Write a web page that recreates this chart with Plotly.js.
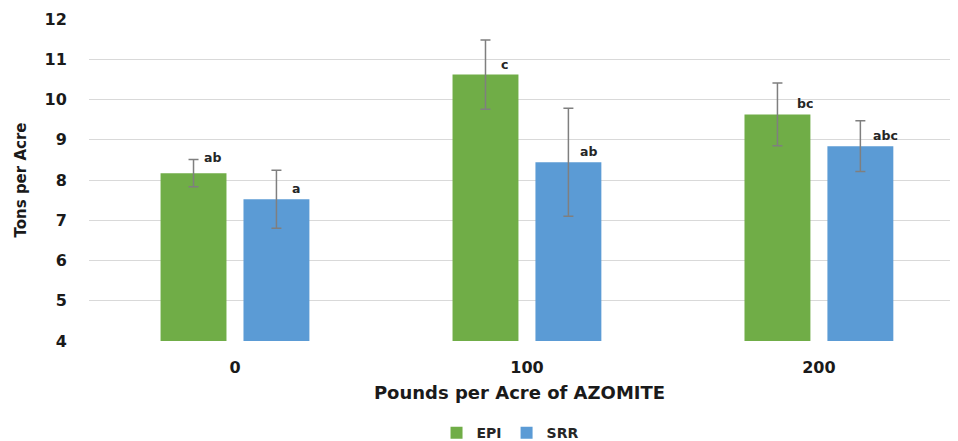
<!DOCTYPE html>
<html>
<head>
<meta charset="utf-8">
<script src="https://cdn.plot.ly/plotly-3.0.1.min.js"></script>
<style>html,body{margin:0;padding:0;background:#fff;}#chart{width:958px;height:441px;}</style>
</head>
<body>
<div id="chart"></div>
<script>
const categories = ["0", "100", "200"];
const epiValues = [8.17, 10.62, 9.63];
const epiErrors = [0.34, 0.86, 0.78];
const srrValues = [7.52, 8.44, 8.84];
const srrErrors = [0.72, 1.34, 0.63];
const epiLetters = ["ab", "c", "bc"];
const srrLetters = ["a", "ab", "abc"];
const yTicks = [4, 5, 6, 7, 8, 9, 10, 11, 12];

const FONT = "DejaVu Sans, Verdana, sans-serif";
const errStyle = {type: "data", visible: true, color: "#7f7f7f", thickness: 1.5, width: 5};

const traces = [
  {type: "bar", name: "EPI", x: categories, y: epiValues,
   error_y: Object.assign({array: epiErrors}, errStyle),
   marker: {color: "#70AD47"}, hoverinfo: "skip"},
  {type: "bar", name: "SRR", x: categories, y: srrValues,
   error_y: Object.assign({array: srrErrors}, errStyle),
   marker: {color: "#5B9BD5"}, hoverinfo: "skip"}
];

const annotations = [];
categories.forEach((c, i) => {
  annotations.push({x: i - 0.142, y: epiValues[i], xref: "x", yref: "y", text: epiLetters[i],
    showarrow: false, xshift: i === 2 ? 28 : 19, yshift: i === 0 ? 6 : 1, yanchor: "bottom",
    font: {family: FONT, size: 12.5, color: "#262626", weight: "bold"}});
  annotations.push({x: i + 0.142, y: srrValues[i], xref: "x", yref: "y", text: srrLetters[i],
    showarrow: false, xshift: i === 2 ? 25 : 20, yshift: 1, yanchor: "bottom",
    font: {family: FONT, size: 12.5, color: "#262626", weight: "bold"}});
});

const layout = {
  width: 958, height: 441,
  margin: {l: 89, r: 8, t: 19, b: 100, autoexpand: false},
  paper_bgcolor: "#ffffff", plot_bgcolor: "#ffffff",
  barmode: "group", bargap: 0.432, bargroupgap: 0.205,
  showlegend: true,
  legend: {orientation: "h", x: 0.489, xanchor: "center", y: -0.286, yanchor: "middle",
    font: {family: FONT, size: 14, color: "#262626", weight: "bold"}, itemwidth: 30, traceorder: "normal"},
  xaxis: {type: "category", range: [-0.5, 2.449], showgrid: false, zeroline: false, showline: false,
    automargin: false,
    ticks: "outside", ticklen: 12, tickcolor: "rgba(0,0,0,0)",
    tickfont: {family: FONT, size: 16, color: "#1a1a1a", weight: "bold"},
    title: {text: "Pounds per Acre of AZOMITE", standoff: 10,
      font: {family: FONT, size: 18, color: "#1a1a1a", weight: "bold"}}},
  yaxis: {range: [4, 12], tickvals: yTicks, ticktext: yTicks.map(String),
    automargin: false,
    showgrid: true, gridcolor: "#d9d9d9", gridwidth: 1, zeroline: false, showline: false,
    ticks: "outside", ticklen: 18, tickcolor: "rgba(0,0,0,0)",
    tickfont: {family: FONT, size: 16, color: "#1a1a1a", weight: "bold"},
    title: {text: "Tons per Acre", standoff: 14,
      font: {family: FONT, size: 15, color: "#1a1a1a", weight: "bold"}}},
  annotations: annotations
};

Plotly.newPlot("chart", traces, layout, {displayModeBar: false, staticPlot: true});
</script>
</body>
</html>
